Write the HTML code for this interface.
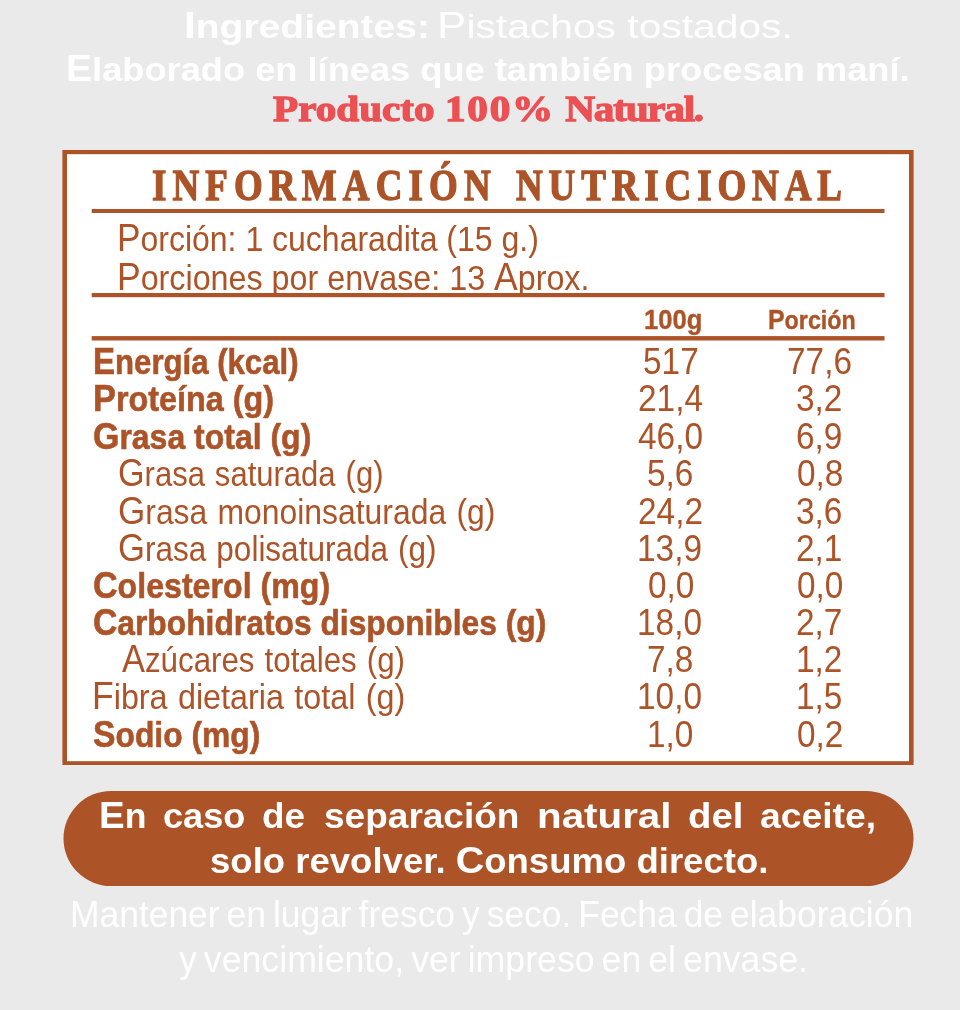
<!doctype html>
<html lang="es"><head><meta charset="utf-8"><title>Información Nutricional</title>
<style>
html,body{margin:0;padding:0}
body{width:960px;height:1010px;background:#eaeaea;position:relative;overflow:hidden}
.g{position:absolute;left:0;top:0}
.t{position:absolute;white-space:nowrap;transform-origin:0 0}
</style></head><body>
<svg class="g" width="960" height="1010" viewBox="0 0 960 1010" aria-hidden="true">
<rect x="62.4" y="150" width="851.2" height="615" fill="#ac5328"/>
<rect x="67" y="154.2" width="842" height="607" fill="#fff"/>
<rect x="91.7" y="209" width="792.8" height="4" fill="#ac5328"/>
<rect x="91.7" y="293" width="792.8" height="4.2" fill="#ac5328"/>
<rect x="91.7" y="336.1" width="792.8" height="4.4" fill="#ac5328"/>
<rect x="63.5" y="791" width="850" height="95" rx="47.5" ry="47.5" fill="#ac5328"/>
</svg>
<div class="t" style="left:184.40px;top:8.40px;font:700 34px/1 'Liberation Sans', sans-serif;color:#ffffff;transform:scaleX(1.1483);"><span style="font-size:1.08em">I</span>ngredientes:</div>
<div class="t" style="left:437.40px;top:8.40px;font:400 34px/1 'Liberation Sans', sans-serif;color:#ffffff;transform:scaleX(1.1993);"><span style="font-size:1.08em">P</span>istachos tostados.</div>
<div class="t" style="left:66.17px;top:50.50px;font:700 34px/1 'Liberation Sans', sans-serif;color:#ffffff;transform:scaleX(1.0657);"><span style="font-size:1.08em">E</span>laborado en líneas que también procesan maní.</div>
<div class="t" style="left:273.00px;top:91.20px;font:700 36.5px/1 'Liberation Serif', serif;color:#eb5053;transform:scaleX(1.1278);-webkit-text-stroke:1.3px;">Producto <span style="letter-spacing:1.6px">100%</span> <span style="letter-spacing:-1.1px">Natural.</span></div>
<div class="t" style="left:152.16px;top:163.90px;font:700 44px/1 'Liberation Serif', serif;color:#ac5328;transform:scaleX(0.8400);-webkit-text-stroke:1.3px;letter-spacing:7.314px;">INFORMACIÓN</div>
<div class="t" style="left:515.80px;top:163.90px;font:700 44px/1 'Liberation Serif', serif;color:#ac5328;transform:scaleX(0.8400);-webkit-text-stroke:1.3px;letter-spacing:7.014px;">NUTRICIONAL</div>
<div class="t" style="left:117.22px;top:219.60px;font:400 34.5px/1 'Liberation Sans', sans-serif;color:#ac5328;transform:scaleX(0.9273);"><span style="font-size:1.1em">P</span>orción: 1 cucharadita (15 g.)</div>
<div class="t" style="left:117.19px;top:258.60px;font:400 34.5px/1 'Liberation Sans', sans-serif;color:#ac5328;transform:scaleX(0.9353);"><span style="font-size:1.1em">P</span>orciones por envase: 13 <span style="font-size:1.1em">A</span>prox.</div>
<div class="t" style="left:643.99px;top:304.80px;font:700 28.2px/1 'Liberation Sans', sans-serif;color:#ac5328;transform:scaleX(0.9081);-webkit-text-stroke:0.4px;">100g</div>
<div class="t" style="left:767.74px;top:304.80px;font:700 26.5px/1 'Liberation Sans', sans-serif;color:#ac5328;transform:scaleX(0.8784);-webkit-text-stroke:0.4px;"><span style="font-size:1.07em">P</span>orción</div>
<div class="t" style="left:92.85px;top:342.80px;font:700 35.5px/1 'Liberation Sans', sans-serif;color:#ac5328;transform:scaleX(0.8775);-webkit-text-stroke:0.6px;"><span style="font-size:1.06em">E</span>nergía (kcal)</div>
<div class="t" style="left:92.78px;top:380.20px;font:700 35.5px/1 'Liberation Sans', sans-serif;color:#ac5328;transform:scaleX(0.9113);-webkit-text-stroke:0.6px;"><span style="font-size:1.06em">P</span>roteína (g)</div>
<div class="t" style="left:92.90px;top:417.70px;font:700 35.5px/1 'Liberation Sans', sans-serif;color:#ac5328;transform:scaleX(0.9008);-webkit-text-stroke:0.6px;"><span style="font-size:1.06em">G</span>rasa total (g)</div>
<div class="t" style="left:118.20px;top:455.20px;font:400 34.5px/1 'Liberation Sans', sans-serif;color:#ac5328;transform:scaleX(0.8993);word-spacing:1.5px;"><span style="font-size:1.1em">G</span>rasa saturada (g)</div>
<div class="t" style="left:118.15px;top:492.80px;font:400 34.5px/1 'Liberation Sans', sans-serif;color:#ac5328;transform:scaleX(0.9240);word-spacing:1.5px;"><span style="font-size:1.1em">G</span>rasa monoinsaturada (g)</div>
<div class="t" style="left:118.17px;top:529.70px;font:400 34.5px/1 'Liberation Sans', sans-serif;color:#ac5328;transform:scaleX(0.9130);word-spacing:1.5px;"><span style="font-size:1.1em">G</span>rasa polisaturada (g)</div>
<div class="t" style="left:92.89px;top:566.70px;font:700 35.5px/1 'Liberation Sans', sans-serif;color:#ac5328;transform:scaleX(0.9054);-webkit-text-stroke:0.6px;"><span style="font-size:1.06em">C</span>olesterol (mg)</div>
<div class="t" style="left:92.90px;top:603.80px;font:700 35.5px/1 'Liberation Sans', sans-serif;color:#ac5328;transform:scaleX(0.8952);-webkit-text-stroke:0.6px;"><span style="font-size:1.06em">C</span>arbohidratos disponibles (g)</div>
<div class="t" style="left:122.20px;top:640.70px;font:400 34.5px/1 'Liberation Sans', sans-serif;color:#ac5328;transform:scaleX(0.9068);word-spacing:1.5px;"><span style="font-size:1.1em">A</span>zúcares totales (g)</div>
<div class="t" style="left:92.39px;top:677.80px;font:400 34.5px/1 'Liberation Sans', sans-serif;color:#ac5328;transform:scaleX(0.9365);word-spacing:1.5px;"><span style="font-size:1.1em">F</span>ibra dietaria total (g)</div>
<div class="t" style="left:92.60px;top:716.20px;font:700 35.5px/1 'Liberation Sans', sans-serif;color:#ac5328;transform:scaleX(0.8957);-webkit-text-stroke:0.6px;"><span style="font-size:1.06em">S</span>odio (mg)</div>
<div class="t" style="left:642.75px;top:342.80px;font:400 37.3px/1 'Liberation Sans', sans-serif;color:#ac5328;transform:scaleX(0.8950);">517</div>
<div class="t" style="left:786.83px;top:342.80px;font:400 37.3px/1 'Liberation Sans', sans-serif;color:#ac5328;transform:scaleX(0.8950);">77,6</div>
<div class="t" style="left:637.83px;top:380.20px;font:400 37.3px/1 'Liberation Sans', sans-serif;color:#ac5328;transform:scaleX(0.8950);">21,4</div>
<div class="t" style="left:796.23px;top:380.20px;font:400 37.3px/1 'Liberation Sans', sans-serif;color:#ac5328;transform:scaleX(0.8950);">3,2</div>
<div class="t" style="left:638.28px;top:417.70px;font:400 37.3px/1 'Liberation Sans', sans-serif;color:#ac5328;transform:scaleX(0.8950);">46,0</div>
<div class="t" style="left:796.23px;top:417.70px;font:400 37.3px/1 'Liberation Sans', sans-serif;color:#ac5328;transform:scaleX(0.8950);">6,9</div>
<div class="t" style="left:647.23px;top:455.20px;font:400 37.3px/1 'Liberation Sans', sans-serif;color:#ac5328;transform:scaleX(0.8950);">5,6</div>
<div class="t" style="left:796.68px;top:455.20px;font:400 37.3px/1 'Liberation Sans', sans-serif;color:#ac5328;transform:scaleX(0.8950);">0,8</div>
<div class="t" style="left:637.83px;top:492.80px;font:400 37.3px/1 'Liberation Sans', sans-serif;color:#ac5328;transform:scaleX(0.8950);">24,2</div>
<div class="t" style="left:796.23px;top:492.80px;font:400 37.3px/1 'Liberation Sans', sans-serif;color:#ac5328;transform:scaleX(0.8950);">3,6</div>
<div class="t" style="left:637.39px;top:529.70px;font:400 37.3px/1 'Liberation Sans', sans-serif;color:#ac5328;transform:scaleX(0.8950);">13,9</div>
<div class="t" style="left:796.23px;top:529.70px;font:400 37.3px/1 'Liberation Sans', sans-serif;color:#ac5328;transform:scaleX(0.8950);">2,1</div>
<div class="t" style="left:647.68px;top:566.70px;font:400 37.3px/1 'Liberation Sans', sans-serif;color:#ac5328;transform:scaleX(0.8950);">0,0</div>
<div class="t" style="left:796.68px;top:566.70px;font:400 37.3px/1 'Liberation Sans', sans-serif;color:#ac5328;transform:scaleX(0.8950);">0,0</div>
<div class="t" style="left:637.39px;top:603.80px;font:400 37.3px/1 'Liberation Sans', sans-serif;color:#ac5328;transform:scaleX(0.8950);">18,0</div>
<div class="t" style="left:796.23px;top:603.80px;font:400 37.3px/1 'Liberation Sans', sans-serif;color:#ac5328;transform:scaleX(0.8950);">2,7</div>
<div class="t" style="left:647.23px;top:640.70px;font:400 37.3px/1 'Liberation Sans', sans-serif;color:#ac5328;transform:scaleX(0.8950);">7,8</div>
<div class="t" style="left:795.78px;top:640.70px;font:400 37.3px/1 'Liberation Sans', sans-serif;color:#ac5328;transform:scaleX(0.8950);">1,2</div>
<div class="t" style="left:637.39px;top:677.80px;font:400 37.3px/1 'Liberation Sans', sans-serif;color:#ac5328;transform:scaleX(0.8950);">10,0</div>
<div class="t" style="left:795.78px;top:677.80px;font:400 37.3px/1 'Liberation Sans', sans-serif;color:#ac5328;transform:scaleX(0.8950);">1,5</div>
<div class="t" style="left:646.78px;top:716.20px;font:400 37.3px/1 'Liberation Sans', sans-serif;color:#ac5328;transform:scaleX(0.8950);">1,0</div>
<div class="t" style="left:796.68px;top:716.20px;font:400 37.3px/1 'Liberation Sans', sans-serif;color:#ac5328;transform:scaleX(0.8950);">0,2</div>
<div class="t" style="left:99.45px;top:797.20px;font:700 35px/1 'Liberation Sans', sans-serif;color:#ffffff;transform:scaleX(1.0171);"><span style="font-size:1.08em">E</span>n</div>
<div class="t" style="left:163.17px;top:798.20px;font:700 35px/1 'Liberation Sans', sans-serif;color:#ffffff;transform:scaleX(1.0331);">caso</div>
<div class="t" style="left:262.45px;top:798.20px;font:700 35px/1 'Liberation Sans', sans-serif;color:#ffffff;transform:scaleX(1.0538);">de</div>
<div class="t" style="left:324.34px;top:798.20px;font:700 35px/1 'Liberation Sans', sans-serif;color:#ffffff;transform:scaleX(1.0577);">separación</div>
<div class="t" style="left:537.09px;top:798.20px;font:700 35px/1 'Liberation Sans', sans-serif;color:#ffffff;transform:scaleX(1.1527);">natural</div>
<div class="t" style="left:688.31px;top:798.20px;font:700 35px/1 'Liberation Sans', sans-serif;color:#ffffff;transform:scaleX(1.0936);">del</div>
<div class="t" style="left:759.73px;top:798.20px;font:700 35px/1 'Liberation Sans', sans-serif;color:#ffffff;transform:scaleX(1.0656);">aceite,</div>
<div class="t" style="left:209.66px;top:841.80px;font:700 35px/1 'Liberation Sans', sans-serif;color:#ffffff;transform:scaleX(1.0438);">solo revolver. <span style="font-size:1.08em">C</span>onsumo directo.</div>
<div class="t" style="left:69.83px;top:895.50px;font:400 37px/1 'Liberation Sans', sans-serif;color:#ffffff;transform:scaleX(0.9570);word-spacing:-3px;">Mantener en lugar fresco y seco. Fecha de elaboración</div>
<div class="t" style="left:179.30px;top:941.00px;font:400 37px/1 'Liberation Sans', sans-serif;color:#ffffff;transform:scaleX(0.9641);word-spacing:-3px;">y vencimiento, ver impreso en el envase.</div>
</body></html>
